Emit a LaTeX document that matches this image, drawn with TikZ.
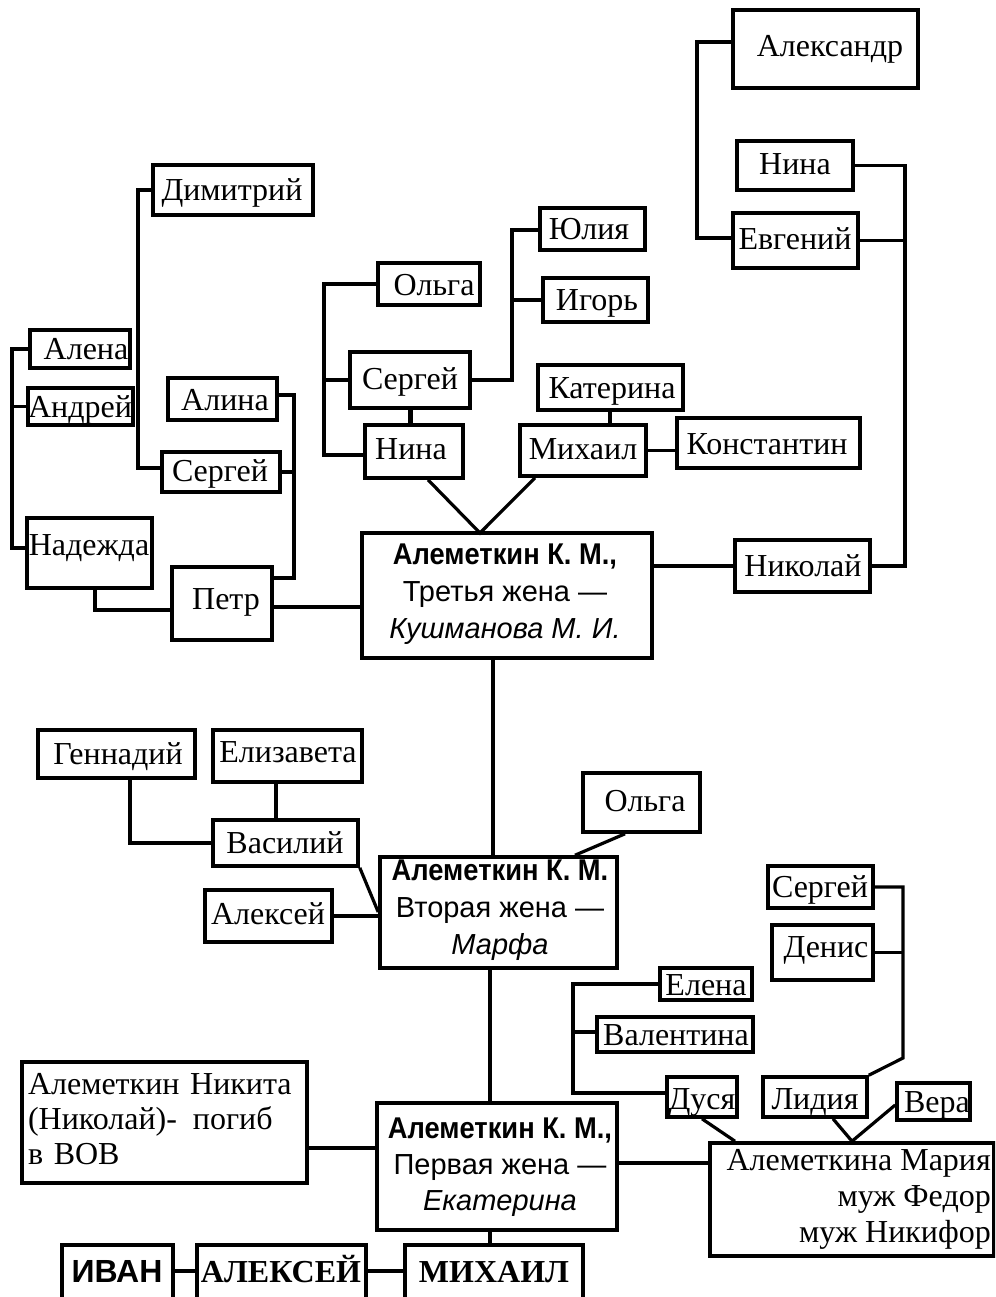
\documentclass[tikz,border=0pt]{standalone}
\usepackage{fontspec}
\setmainfont{Liberation Serif}
\newfontfamily\sansf{Liberation Sans}
\newcommand\nmf{\fontsize{32}{36}\selectfont}
\newcommand\bsans[1]{{\bfseries\fontsize{30}{37}\selectfont\scalebox{0.91}[1]{#1}}}
\tikzset{
  bx/.style={draw, line width=3.6pt, inner sep=0pt},
  txt/.style={inner sep=0pt, font=\nmf, text height=21pt, text depth=0pt},
  ln/.style={line width=3.2pt},
}
% name, x1, y1, x2, y2, text x, text y, text
\newcommand\bxn[8]{%
  \node[bx, minimum width={#4-#2}, minimum height={#5-#3}] (#1) at ({(#2+#4)/2},{-(#3+#5)/2}) {};
  \node[txt] (#1-t) at (#6,-#7) {#8};}
\begin{document}
\begin{tikzpicture}[x=1pt,y=1pt]
\useasboundingbox (0,0) rectangle (995,-1297);
\clip (0,0) rectangle (995,-1297);
\fill[white] (0,0) rectangle (995,-1297);

% top right
\bxn{ale}{733}{10}{918}{88}{830}{46}{Александр}
\bxn{ninaR}{737}{141}{853}{190}{795}{164}{Нина}
\bxn{evg}{733}{213}{858}{268}{795}{239}{Евгений}
\bxn{nik}{735}{540}{870}{592}{803}{566}{Николай}

% top centre
\bxn{olgaT}{378}{263}{480}{305}{434}{285}{Ольга}
\bxn{yul}{540}{208}{645}{250}{589}{229}{Юлия}
\bxn{igr}{543}{278}{648}{322}{597}{300}{Игорь}
\bxn{serC}{350}{352}{470}{408}{410}{379}{Сергей}
\bxn{ninaC}{365}{425}{463}{478}{411}{449}{Нина}
\bxn{kat}{538}{365}{683}{410}{612}{388}{Катерина}
\bxn{mih}{520}{425}{646}{476}{583}{449}{Михаил}
\bxn{kon}{677}{418}{860}{468}{767}{444}{Константин}

% top left
\bxn{dim}{153}{165}{313}{215}{232}{190}{Димитрий}
\bxn{alena}{30}{330}{130}{368}{86}{349}{Алена}
\bxn{andr}{28}{388}{133}{425}{80}{407}{Андрей}
\bxn{alina}{168}{378}{277}{420}{225}{400}{Алина}
\bxn{serL}{162}{452}{280}{492}{220}{471}{Сергей}
\bxn{nad}{27}{518}{152}{588}{89}{545}{Надежда}
\bxn{petr}{172}{567}{272}{640}{226}{599}{Петр}

% third wife
\node[bx, minimum width=290, minimum height=125] (w3) at (507,-595.5) {};
\node[inner sep=0pt, align=center, font=\sansf\fontsize{29}{37}\selectfont] (w3-t) at (505,-594)
  {\bsans{Алеметкин К. М.,}\\Третья жена —\\{\itshape Кушманова М. И.}};

% middle
\bxn{gen}{38}{730}{195}{778}{118}{754}{Геннадий}
\bxn{eliz}{213}{730}{362}{782}{288}{752}{Елизавета}
\bxn{vas}{213}{820}{358}{866}{285}{843}{Василий}
\bxn{alekM}{205}{890}{332}{942}{268}{914}{Алексей}
\bxn{olgaB}{583}{773}{700}{832}{645}{801}{Ольга}

\node[bx, minimum width=237, minimum height=111] (w2) at (498.5,-912.5) {};
\node[inner sep=0pt, align=center, font=\sansf\fontsize{29}{37}\selectfont] (w2-t) at (500,-910)
  {\bsans{Алеметкин К. М.}\\Вторая жена —\\{\itshape Марфа}};

% lower right
\bxn{serR}{768}{866}{873}{908}{820}{887}{Сергей}
\bxn{den}{772}{925}{873}{980}{826}{947}{Денис}
\bxn{elena}{660}{968}{752}{1000}{706}{985}{Елена}
\bxn{val}{597}{1017}{753}{1052}{676}{1035}{Валентина}
\bxn{dus}{667}{1077}{737}{1117}{702}{1099}{Дуся}
\bxn{lid}{763}{1077}{867}{1117}{815}{1099}{Лидия}
\bxn{vera}{897}{1083}{970}{1120}{937}{1102}{Вера}

% bottom
\node[bx, minimum width=285, minimum height=121] (nikita) at (164.5,-1122.5) {};
\node[inner sep=0pt, align=left, text width=274pt, font=\fontsize{32}{35}\selectfont] (nikita-t) at (165,-1119)
  {Алеметкин Никита\\(Николай)-\hspace{16pt}погиб\\в ВОВ};

\node[bx, minimum width=240, minimum height=127] (w1) at (497,-1166.5) {};
\node[inner sep=0pt, align=center, font=\sansf\fontsize{29}{36}\selectfont] (w1-t) at (500,-1167)
  {\bsans{Алеметкин К. М.,}\\Первая жена —\\{\itshape Екатерина}};

\node[bx, minimum width=284, minimum height=113] (mar) at (852,-1199.5) {};
\node[inner sep=0pt, align=right, anchor=east, font=\fontsize{32}{36}\selectfont] (mar-t) at (991,-1199)
  {Алеметкина Мария\\муж Федор\\муж Никифор};

\bxn{ivan}{62}{1245}{173}{1312}{117}{1272}{\sansf\bfseries\fontsize{32}{34}\selectfont ИВАН}
\bxn{alekB}{197}{1245}{366}{1312}{281}{1272}{\bfseries АЛЕКСЕЙ}
\bxn{mihB}{405}{1245}{583}{1312}{494}{1272}{\bfseries МИХАИЛ}

% connectors: top right
\draw[ln] (ale.west |- 0,-42) -- (697,-42) -- (697,-238) -- (evg.west |- 0,-238);
\draw[ln] (ninaR.east) -- (905,-165.5) -- (905,-566) -- (nik.east);
\draw[ln] (evg.east) -- (905,-240.5);
\draw[ln] (w3.east |- nik.west) -- (nik.west);

% top centre
\coordinate (ap3) at (480,-533);
\draw[ln] (ninaC.south -| 428,0) -- (ap3) -- (mih.south -| 535,0);
\draw[line width=5pt] (serC.south -| 410,0) -- (ninaC.north -| 410,0);
\draw[ln] (olgaT.west) -- (324,-284) -- (324,-455) -- (ninaC.west |- 0,-455);
\draw[ln] (serC.west) -- (324,-380);
\draw[ln] (serC.east) -- (512,-380) -- (512,-230) -- (yul.west |- 0,-230);
\draw[ln] (igr.west) -- (512,-300);
\draw[ln] (kat.south -| 610,0) -- (mih.north -| 610,0);
\draw[ln] (mih.east) -- (kon.west |- mih.east);

% top left
\draw[ln] (alena.west) -- (12,-349) -- (12,-548) -- (nad.west |- 0,-548);
\draw[ln] (andr.west) -- (12,-406.5);
\draw[ln] (dim.west) -- (138,-190) -- (138,-468) -- (serL.west |- 0,-468);
\draw[ln] (alina.east |- 0,-395) -- (294,-395) -- (294,-578) -- (petr.east |- 0,-578);
\draw[ln] (serL.east) -- (294,-472);
\draw[ln] (nad.south -| 95,0) -- (95,-610) -- (petr.west |- 0,-610);
\draw[ln] (petr.east |- 0,-607) -- (w3.west |- 0,-607);

% middle
\draw[ln] (w3.south -| 493,0) -- (w2.north -| 493,0);
\draw[ln] (olgaB.south -| 625,0) -- (w2.north -| 575,0);
\draw[ln] (gen.south -| 130,0) |- (vas.west);
\draw[ln] (eliz.south -| 276,0) -- (vas.north -| 276,0);
\draw[ln] (vas.south east) -- (w2.west |- 0,-912);
\draw[ln] (alekM.east) -- (w2.west |- alekM.east);
\draw[ln] (w2.south -| 490,0) -- (w1.north -| 490,0);

% bottom
\draw[ln] (nikita.east |- 0,-1148) -- (w1.west |- 0,-1148);
\draw[ln] (w1.east |- 0,-1163) -- (mar.west |- 0,-1163);
\draw[ln] (w1.south -| 490,0) -- (mihB.north -| 490,0);
\draw[ln] (ivan.east |- 0,-1271) -- (alekB.west |- 0,-1271);
\draw[ln] (alekB.east |- 0,-1271) -- (mihB.west |- 0,-1271);
\draw[ln] (elena.west) -- (573,-984) -- (573,-1093) -- (dus.west |- 0,-1093);
\draw[ln] (val.west |- 0,-1032) -- (573,-1032);
\draw[ln] (serR.east) -- (903,-887) -- (903,-1058) -- (lid.north east);
\draw[ln] (den.east) -- (903,-952.5);
\draw[ln] (dus.south -| 702,0) -- (mar.north -| 735,0);
\draw[ln] (lid.south -| 833,0) -- (mar.north -| 852,0) -- (vera.west |- 0,-1105);
\end{tikzpicture}
\end{document}
